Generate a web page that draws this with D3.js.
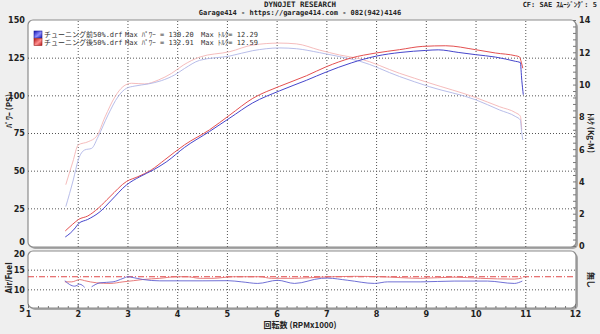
<!DOCTYPE html>
<html>
<head>
<meta charset="utf-8">
<script src="https://cdn.jsdelivr.net/npm/d3@7"></script>
<style>
  body { margin: 0; background: #efefef; }
  svg { display: block; }
  .lbl text, .lbl-text { font-family: "Liberation Sans Narrow", "DejaVu Sans Condensed", sans-serif; font-weight: bold; font-size: 9px; fill: #222; }
  .lbl path, .lbl line { stroke: none; }
  .minor line { stroke: #777; stroke-width: 1; }
  .minor path { stroke: none; }
  .mono { font-family: "DejaVu Sans Mono", "Noto Sans CJK JP", monospace; font-weight: bold; fill: #222; }
  .legend { font-family: "DejaVu Sans Mono", "Noto Sans CJK JP", monospace; font-size: 7px; fill: #333; }
  .grid line { stroke: #555; stroke-width: 1; stroke-dasharray: 1,2; }
  .grid path { stroke: none; }
</style>
</head>
<body>
<svg id="chart" width="600" height="334"></svg>
<script>
// rpm in thousands, power in PS, torque in kg-m, air/fuel ratio
const rpmTicks = d3.range(1, 13);
const powerTicks = [0, 25, 50, 75, 100, 125, 150];
const torqueTicks = [0, 2, 4, 6, 8, 10, 12, 14];
const afrTicks = [5, 10, 15, 20];
const afrTarget = 13.2;

const runNames = [`チューニング前50%.drf`, `チューニング後50%.drf`];
const maxPower = [`130.20`, `132.91`];
const maxTorque = [`12.29`, `12.59`];

const powerBefore = [[1.75, 6.0], [1.85, 8.5], [1.95, 12], [2.02, 15.0], [2.2, 17.6], [2.45, 22.8], [2.68, 30.5],
  [2.98, 40.5], [3.25, 46], [3.52, 50.5], [3.79, 56], [4.15, 65.5], [4.65, 76], [5.06, 85], [5.52, 95],
  [6.06, 103], [6.6, 110], [7.0, 115.5], [7.5, 121.5], [8.0, 126], [8.5, 128.5], [9.0, 129.8], [9.25, 130.2],
  [9.65, 128.5], [10.0, 127], [10.4, 125.4], [10.8, 122.6], [10.9, 121.8], [10.93, 110], [10.96, 100.4]];

const powerAfter = [[1.75, 10], [1.9, 14.5], [2.02, 17.7], [2.2, 19.9], [2.41, 25], [2.65, 32.8], [2.98, 42.8],
  [3.21, 46], [3.48, 50.5], [3.75, 57.2], [4.15, 67.2], [4.65, 77.1], [5.06, 87], [5.52, 98], [6.06, 106],
  [6.6, 113], [7.0, 119], [7.5, 124.8], [8.0, 128.1], [8.47, 130.3], [8.94, 132.5], [9.4, 132.9], [10.0, 130.3],
  [10.4, 128.1], [10.8, 126.3], [10.88, 125.6], [10.92, 122], [10.95, 118]];

const torqueBefore = [[1.76, 2.44], [1.91, 4.09], [2.01, 5.33], [2.14, 5.95], [2.28, 6.05], [2.41, 6.77], [2.61, 8.12],
  [2.81, 9.25], [2.98, 9.77], [3.15, 9.91], [3.42, 10.04], [3.68, 10.24], [3.95, 10.6], [4.15, 11.0], [4.45, 11.5],
  [5.06, 11.77], [5.52, 12.1], [6.06, 12.27], [6.4, 12.22], [6.86, 11.98], [7.27, 11.73], [7.67, 11.45], [8.47, 10.5],
  [9.07, 9.87], [10.01, 9.05], [10.48, 8.43], [10.81, 8.01], [10.9, 7.81], [10.93, 7.0], [10.95, 6.57]];

const torqueAfter = [[1.76, 3.8], [1.9, 5.2], [2.01, 6.26], [2.21, 6.46], [2.38, 6.8], [2.55, 8.0], [2.75, 9.25],
  [2.91, 9.87], [3.08, 10.08], [3.35, 10.04], [3.62, 10.28], [3.89, 10.7], [4.12, 11.2], [4.45, 11.7], [5.06, 12.04],
  [5.52, 12.45], [6.06, 12.57], [6.4, 12.52], [6.86, 12.14], [7.27, 11.83], [7.67, 11.6], [8.47, 10.7], [9.07, 10.1],
  [10.0, 9.2], [10.48, 8.63], [10.81, 8.25], [10.9, 8.05], [10.93, 7.2]];

const afrBefore = [[1.74, 12.2], [1.84, 11.2], [1.94, 10.8], [2.04, 11.3], [2.14, 10.5], [2.2, null], [2.28, 10.65],
  [2.45, 11.66], [2.71, 11.9], [2.91, 12.77], [3.01, 13.2], [3.11, 13.0], [3.31, 12.5], [3.65, 12.16], [4.5, 12.16],
  [5.02, 12.2], [5.3, 11.9], [5.62, 11.5], [6.02, 12.3], [6.36, 11.5], [6.9, 12.8], [7.02, 12.85], [7.43, 12.3],
  [7.97, 11.5], [8.23, 11.9], [8.9, 11.9], [9.57, 12.1], [10.24, 12.1], [10.78, 11.5], [10.94, 12.1]];

const afrAfter = [[1.74, 11.9], [1.88, 11.9], [2.04, 12.5], [2.14, 12.2], [2.38, 11.66], [2.65, 11.5], [2.91, 11.9],
  [3.12, 12.2], [3.31, 12.5], [3.65, 12.8], [3.98, 13.2], [4.2, 13.2], [4.46, 12.8], [4.72, 12.8], [5.12, 13.2],
  [5.66, 13.2], [5.9, 12.8], [6.36, 12.8], [6.9, 13.1], [7.57, 13.3], [8.1, 13.2], [8.9, 12.8], [9.57, 13.1],
  [10.1, 12.8], [10.78, 12.6], [10.94, 12.9]];

const colors = {
  powerBefore: `#4646cc`, powerAfter: `#e45050`,
  torqueBefore: `#b0b6e6`, torqueAfter: `#f4b4b4`,
  afrBefore: `#6060d0`, afrAfter: `#e46c6c`,
};

const svg = d3.select(`#chart`);

const x = d3.scaleLinear().domain([1, 12]).range([28, 575]);
const yP = d3.scaleLinear().domain([0, 150]).range([246, 20]);
const yT = d3.scaleLinear().domain([0, 14]).range([246, 20]);
const yA = d3.scaleLinear().domain([5, 20]).range([309, 250]);

const main = {top: 20, bottom: 247};
const lower = {top: 251, bottom: 308};

// frames with a soft shadow
const drawFrame = (y0, y1) => {
  svg.append(`rect`)
    .attr(`x`, 30).attr(`y`, y0 + 2)
    .attr(`width`, 548).attr(`height`, y1 - y0)
    .attr(`rx`, 5).attr(`fill`, `#a8a8a8`);
  svg.append(`rect`)
    .attr(`x`, 28).attr(`y`, y0)
    .attr(`width`, 548).attr(`height`, y1 - y0)
    .attr(`rx`, 5).attr(`fill`, `#fff`)
    .attr(`stroke`, `#8c8c8c`).attr(`stroke-width`, 1.2);
};
drawFrame(main.top, main.bottom);
drawFrame(lower.top, lower.bottom);

// grid lines
const gridX = (y0, y1) => svg.append(`g`)
  .attr(`class`, `grid`)
  .attr(`transform`, `translate(0,${y1})`)
  .call(d3.axisBottom(x).tickValues(rpmTicks.slice(1, -1)).tickSize(-(y1 - y0)).tickFormat(``));
gridX(main.top, main.bottom);
gridX(lower.top, lower.bottom);

svg.append(`g`)
  .attr(`class`, `grid`)
  .attr(`transform`, `translate(28,0)`)
  .call(d3.axisLeft(yP).tickValues(powerTicks.slice(1, -1)).tickSize(-548).tickFormat(``));

svg.append(`g`)
  .attr(`class`, `grid`)
  .attr(`transform`, `translate(28,0)`)
  .call(d3.axisLeft(yA).tickValues([10, 15]).tickSize(-548).tickFormat(``));

// axes
const powerAxis = svg.append(`g`)
  .attr(`class`, `lbl`)
  .attr(`transform`, `translate(28,0)`)
  .call(d3.axisLeft(yP).tickValues(powerTicks).tickSize(0).tickPadding(3));
// lift the 0 so it sits above the air/fuel 20
powerAxis.selectAll(`.tick text`).filter(d => d === 0).attr(`dy`, `-0.15em`);

svg.append(`g`)
  .attr(`class`, `minor`)
  .attr(`transform`, `translate(576,0)`)
  .call(d3.axisLeft(yT).tickValues(d3.range(0, 14.01, 0.4)).tickSize(3).tickFormat(``));

svg.append(`g`)
  .attr(`class`, `lbl`)
  .attr(`transform`, `translate(576,0)`)
  .call(d3.axisRight(yT).tickValues(torqueTicks).tickSize(0).tickPadding(3));

const afrAxis = svg.append(`g`)
  .attr(`class`, `lbl`)
  .attr(`transform`, `translate(28,0)`)
  .call(d3.axisLeft(yA).tickValues(afrTicks).tickSize(0).tickPadding(3));
afrAxis.selectAll(`.tick text`).filter(d => d === 20).attr(`dy`, `0.75em`);

svg.append(`g`)
  .attr(`class`, `minor`)
  .attr(`transform`, `translate(0,${lower.bottom})`)
  .call(d3.axisTop(x).tickValues(d3.range(1, 12.01, 0.2)).tickSize(2).tickFormat(``));

svg.append(`g`)
  .attr(`class`, `minor`)
  .attr(`transform`, `translate(0,${lower.bottom})`)
  .call(d3.axisTop(x).tickValues(rpmTicks).tickSize(4).tickFormat(``));

svg.append(`g`)
  .attr(`class`, `lbl`)
  .attr(`transform`, `translate(0,${lower.bottom})`)
  .call(d3.axisBottom(x).tickValues(rpmTicks).tickSize(0).tickPadding(3));

// air/fuel target line
svg.append(`line`)
  .attr(`x1`, x(1)).attr(`x2`, x(12))
  .attr(`y1`, yA(afrTarget)).attr(`y2`, yA(afrTarget))
  .attr(`stroke`, `#e04848`).attr(`stroke-width`, 1)
  .attr(`stroke-dasharray`, `6,2,1,2`);

// curves
const drawLine = (data, yScale, color, width) => {
  const line = d3.line()
    .defined(d => d[1] !== null)
    .x(d => x(d[0]))
    .y(d => yScale(d[1]))
    .curve(d3.curveMonotoneX);
  svg.append(`path`)
    .datum(data)
    .attr(`d`, line)
    .attr(`fill`, `none`)
    .attr(`stroke`, color)
    .attr(`stroke-width`, width)
    .attr(`stroke-linejoin`, `round`);
};

drawLine(torqueAfter, yT, colors.torqueAfter, 0.9);
drawLine(torqueBefore, yT, colors.torqueBefore, 0.9);
drawLine(powerAfter, yP, colors.powerAfter, 1);
drawLine(powerBefore, yP, colors.powerBefore, 1);
drawLine(afrAfter, yA, colors.afrAfter, 0.9);
drawLine(afrBefore, yA, colors.afrBefore, 0.9);

// header
svg.append(`text`).attr(`class`, `mono`).attr(`x`, 300).attr(`y`, 7)
  .attr(`text-anchor`, `middle`).style(`font-size`, `7.5px`).text(`DYNOJET  RESEARCH`);
svg.append(`text`).attr(`class`, `mono`).attr(`x`, 300).attr(`y`, 15)
  .attr(`text-anchor`, `middle`).style(`font-size`, `7px`).text(`Garage414 - https://garage414.com - 082(942)4146`);
svg.append(`text`).attr(`class`, `mono`).attr(`x`, 597).attr(`y`, 7)
  .attr(`text-anchor`, `end`).style(`font-size`, `7px`).text(`CF: SAE  ｽﾑｰｼﾞﾝｸﾞ: 5`);

// legend
const defs = svg.append(`defs`);
[[`gBlue`, `#1010b0`, `#9090ff`], [`gRed`, `#b01010`, `#ff9090`]].forEach(([id, c0, c1]) => {
  const g = defs.append(`linearGradient`).attr(`id`, id).attr(`x1`, 0).attr(`x2`, 1).attr(`y1`, 0).attr(`y2`, 1);
  g.append(`stop`).attr(`offset`, `0%`).attr(`stop-color`, c0);
  g.append(`stop`).attr(`offset`, `55%`).attr(`stop-color`, c1);
  g.append(`stop`).attr(`offset`, `100%`).attr(`stop-color`, c0);
});
runNames.forEach((name, i) => {
  const yy = 31 + i * 7.5;
  svg.append(`rect`).attr(`x`, 34).attr(`y`, yy).attr(`width`, 8).attr(`height`, 7)
    .attr(`fill`, i === 0 ? `url(#gBlue)` : `url(#gRed)`).attr(`stroke`, i === 0 ? `#20209a` : `#9a2020`).attr(`stroke-width`, 0.6);
  svg.append(`text`).attr(`class`, `legend`).attr(`x`, 44).attr(`y`, yy + 6).text(name);
  svg.append(`text`).attr(`class`, `legend`).attr(`x`, 125).attr(`y`, yy + 6).text(`Max ﾊﾟﾜｰ = ${maxPower[i]}`);
  svg.append(`text`).attr(`class`, `legend`).attr(`x`, 201).attr(`y`, yy + 6).text(`Max ﾄﾙｸ= ${maxTorque[i]}`);
});

// axis titles (centred on their anchor line)
const sideTitle = (tx, ty, angle, label, cjk) => {
  const t = svg.append(`text`).attr(`class`, `lbl-text`)
    .attr(`transform`, `translate(${tx},${ty}) rotate(${angle})`)
    .attr(`text-anchor`, `middle`).attr(`dy`, `0.35em`)
    .style(`font-size`, `8px`).text(label);
  if (cjk) t.style(`font-family`, `"Noto Sans CJK JP", sans-serif`);
};
sideTitle(9, 111, -90, `ﾊﾟﾜｰ (PS)`, true);
sideTitle(591, 133, 90, `ﾄﾙｸ (Kg-M)`, true);
sideTitle(9, 278, -90, `Air/Fuel`, false);
sideTitle(591, 280, 90, `無し`, true);

svg.append(`text`).attr(`class`, `lbl-text`)
  .attr(`x`, 300).attr(`y`, 328).attr(`text-anchor`, `middle`)
  .style(`font-family`, `"Noto Sans CJK JP", sans-serif`).style(`font-size`, `8px`).text(`回転数 (RPMx1000)`);
</script>
</body>
</html>
